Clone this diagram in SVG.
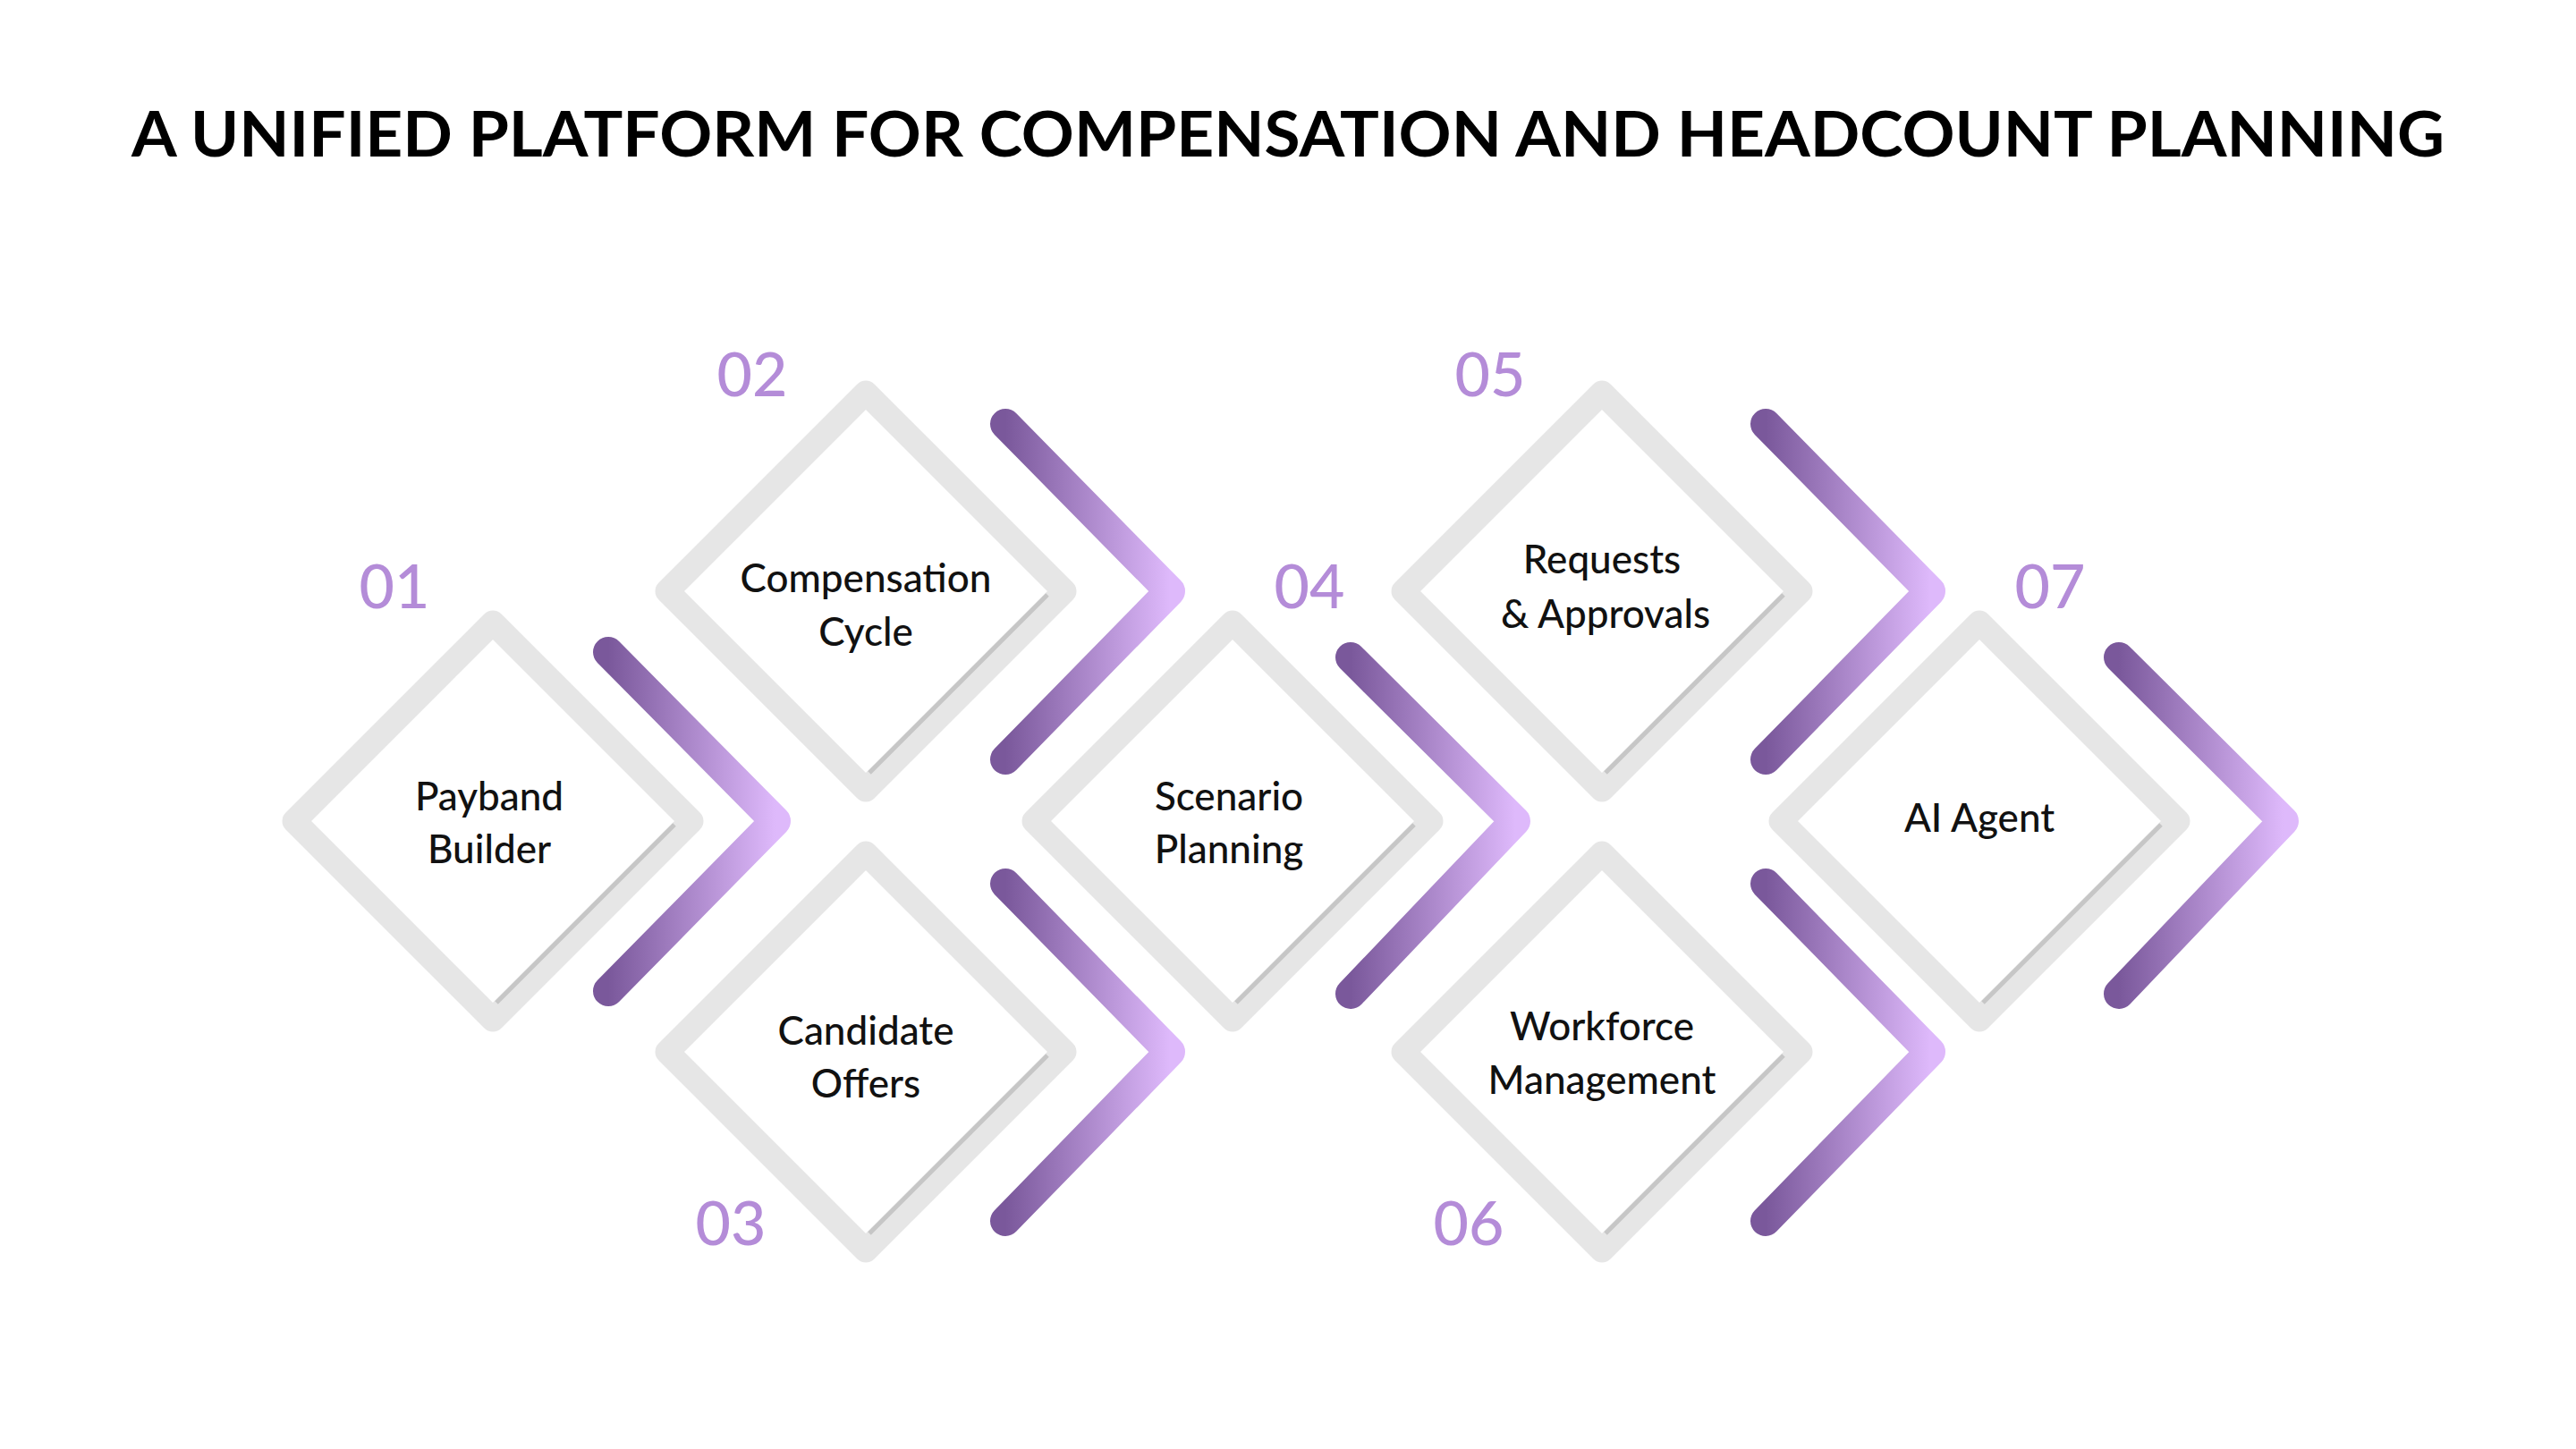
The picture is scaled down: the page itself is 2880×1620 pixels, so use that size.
<svg xmlns="http://www.w3.org/2000/svg" width="2880" height="1620" viewBox="0 0 2880 1620">
<style>
.ring{fill:none;stroke:#e6e6e6;stroke-width:27;stroke-linejoin:round}
.sh{stroke:#c6c6c6;stroke-width:5}
.chev{fill:none;stroke:url(#g);stroke-width:34;stroke-linecap:round;stroke-linejoin:round}
.lbl{font-family:Lato,"Liberation Sans",sans-serif;font-size:44px;font-weight:500;fill:#111;text-anchor:middle}
.num{font-family:Lato,"Liberation Sans",sans-serif;font-size:68px;font-weight:500;fill:#b48cd8;text-anchor:middle}
.title{font-family:Lato,"Liberation Sans",sans-serif;font-size:70px;font-weight:700;fill:#000;text-anchor:middle}
</style>
<defs>
<linearGradient id="g" x1="0" y1="0" x2="1" y2="0"><stop offset="0" stop-color="#7a589b"/><stop offset="1" stop-color="#deb9fb"/></linearGradient>
<path id="dm" d="M0,-222 L222,0 L0,222 L-222,0 Z"/>
</defs>
<rect width="2880" height="1620" fill="#fff"/>
<text class="title" x="1440" y="175" textLength="2586" lengthAdjust="spacingAndGlyphs">A UNIFIED PLATFORM FOR COMPENSATION AND HEADCOUNT PLANNING</text>
<g id="connectors">
<path class="chev" d="M680,729 L867,918 L680,1108"/>
<path class="chev" d="M1124,474 L1308,661 L1124,849"/>
<path class="chev" d="M1124,988 L1308,1176 L1124,1365"/>
<path class="chev" d="M1510,735 L1694,918 L1510,1111"/>
<path class="chev" d="M1974,474 L2158,661 L1974,849"/>
<path class="chev" d="M1974,988 L2158,1176 L1974,1365"/>
<path class="chev" d="M2369,735 L2553,918 L2369,1111"/>
</g>
<g id="n1" transform="translate(551,918)"><use href="#dm" class="ring"/><line class="sh" x1="203" y1="4" x2="4" y2="203"/><text class="lbl" x="-4" y="-12">Payband</text><text class="lbl" x="-4" y="47">Builder</text></g>
<g id="n2" transform="translate(968,661)"><use href="#dm" class="ring"/><line class="sh" x1="203" y1="4" x2="4" y2="203"/><text class="lbl" x="0" y="1">Compensation</text><text class="lbl" x="0" y="61">Cycle</text></g>
<g id="n3" transform="translate(968,1176)"><use href="#dm" class="ring"/><line class="sh" x1="203" y1="4" x2="4" y2="203"/><text class="lbl" x="0" y="-8">Candidate</text><text class="lbl" x="0" y="51">Offers</text></g>
<g id="n4" transform="translate(1378,918)"><use href="#dm" class="ring"/><line class="sh" x1="203" y1="4" x2="4" y2="203"/><text class="lbl" x="-4" y="-12">Scenario</text><text class="lbl" x="-4" y="47">Planning</text></g>
<g id="n5" transform="translate(1791,661)"><use href="#dm" class="ring"/><line class="sh" x1="203" y1="4" x2="4" y2="203"/><text class="lbl" x="0" y="-20">Requests</text><text class="lbl" x="4" y="41">&amp; Approvals</text></g>
<g id="n6" transform="translate(1791,1176)"><use href="#dm" class="ring"/><line class="sh" x1="203" y1="4" x2="4" y2="203"/><text class="lbl" x="0" y="-13">Workforce</text><text class="lbl" x="0" y="47">Management</text></g>
<g id="n7" transform="translate(2213,918)"><use href="#dm" class="ring"/><line class="sh" x1="203" y1="4" x2="4" y2="203"/><text class="lbl" x="0" y="12">AI Agent</text></g>
<g id="numbers">
<text class="num" x="441" y="680">01</text>
<text class="num" x="841" y="443">02</text>
<text class="num" x="817" y="1392">03</text>
<text class="num" x="1464" y="680">04</text>
<text class="num" x="1666" y="443">05</text>
<text class="num" x="1642" y="1392">06</text>
<text class="num" x="2292" y="680">07</text>
</g>
</svg>
